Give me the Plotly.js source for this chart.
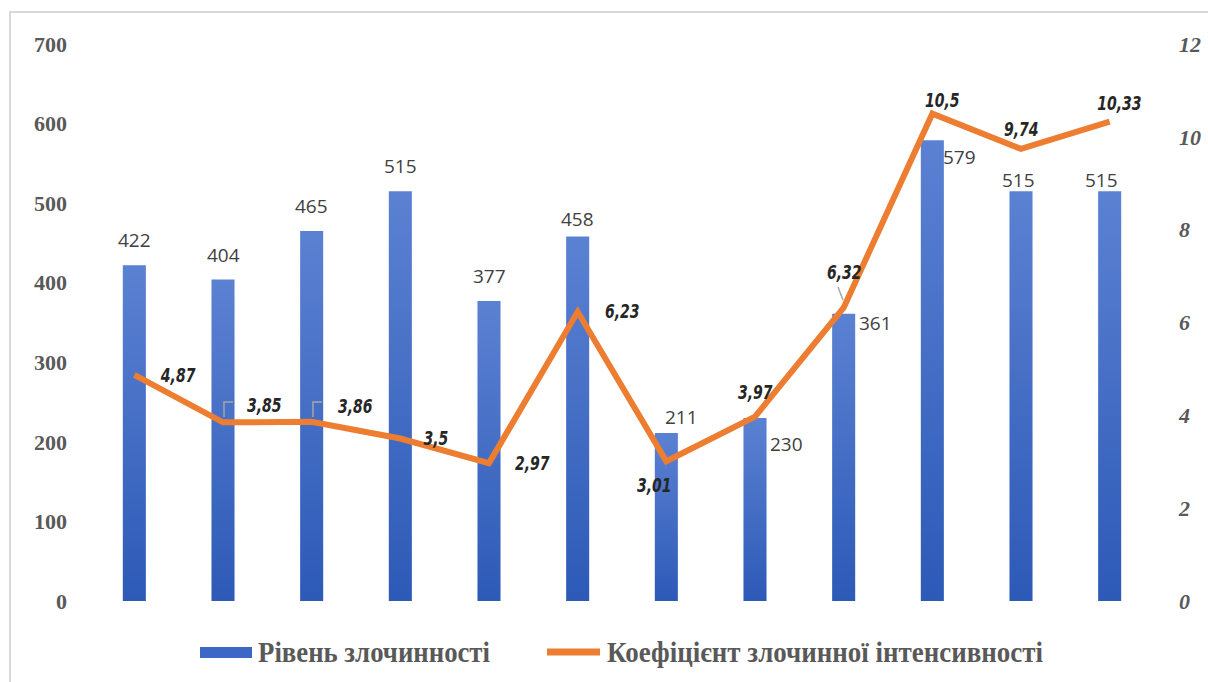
<!DOCTYPE html>
<html>
<head>
<meta charset="utf-8">
<script src="https://cdn.plot.ly/plotly-3.0.1.min.js"></script>
<style>
html,body{margin:0;padding:0;background:#fff;}
#chart{width:1208px;height:682px;}
</style>
</head>
<body>
<div id="chart"></div>
<script>
// ---- data ----
const categories = ['1','2','3','4','5','6','7','8','9','10','11','12'];
const crimeLevel = [422, 404, 465, 515, 377, 458, 211, 230, 361, 579, 515, 515];
const crimeIntensity = [4.87, 3.85, 3.86, 3.5, 2.97, 6.23, 3.01, 3.97, 6.32, 10.5, 9.74, 10.33];
const intensityLabels = ['4,87','3,85','3,86','3,5','2,97','6,23','3,01','3,97','6,32','10,5','9,74','10,33'];
const leftTicks = [0,100,200,300,400,500,600,700];
const rightTicks = [0,2,4,6,8,10,12];
const seriesNames = ['Рівень злочинності', 'Коефіцієнт злочинної інтенсивності'];

// ---- geometry / style ----
const M = {l:90, r:54, t:44, b:81};
const W = 1208, H = 682;
const pw = W - M.l - M.r, ph = H - M.t - M.b;
const px2x = px => (px - M.l) / pw;
const py2y = py => (H - M.b - py) / ph;

const barLabelShift = [[0,25],[0,25],[0,25],[0,25],[0,25],[0,18],[15,16],[31,-26],[32,-9],[27,-17],[-3,11],[-8,11]];
const lineLabelShift = [[44,0],[41,17],[43,16],[36,1],[43,0],[44,1],[-12,-24],[0,25],[0,36],[10,14],[0,20],[10,19]];

const annotations = [];
categories.forEach((c,i)=>{
  annotations.push({x:i, y:crimeLevel[i], xref:'x', yref:'y', text:String(crimeLevel[i]), showarrow:false,
    xshift:barLabelShift[i][0], yshift:barLabelShift[i][1],
    font:{family:'Open Sans, DejaVu Sans, sans-serif', size:19, color:'#404040'}});
});
categories.forEach((c,i)=>{
  annotations.push({x:i, y:crimeIntensity[i], xref:'x', yref:'y2', text:'<b><i>'+intensityLabels[i]+'</i></b>', showarrow:false,
    xshift:lineLabelShift[i][0], yshift:lineLabelShift[i][1],
    font:{family:'DejaVu Sans Condensed, DejaVu Sans, sans-serif', size:20, color:'#262626'}});
});
// custom legend texts
const legendFont = {family:'Liberation Serif', size:29, color:'#595959', weight:'bold'};
annotations.push({xref:'paper', yref:'paper', x:px2x(256), y:py2y(652), xanchor:'left', yanchor:'middle',
  text:'<b>'+seriesNames[0]+'</b>', showarrow:false, font:legendFont});
annotations.push({xref:'paper', yref:'paper', x:px2x(605), y:py2y(652), xanchor:'left', yanchor:'middle',
  text:'<b>'+seriesNames[1]+'</b>', showarrow:false, font:legendFont});

const leader = {color:'#a6a6a6', width:1.5};
const traces = [
  {type:'bar', name:seriesNames[0], x:categories, y:crimeLevel, width:0.26,
   marker:{color:'#3d67c6'}, hoverinfo:'skip'},
  {type:'scatter', mode:'lines', name:seriesNames[1], x:categories, y:crimeIntensity, yaxis:'y2',
   line:{color:'#ED7D31', width:6}, hoverinfo:'skip'}
];

const layout = {
  width:W, height:H,
  margin:M,
  paper_bgcolor:'#ffffff', plot_bgcolor:'#ffffff',
  showlegend:false,
  xaxis:{type:'category', showticklabels:false, showgrid:false, zeroline:false, showline:false, ticks:''},
  yaxis:{range:[0,700], tickvals:leftTicks, showgrid:false, zeroline:false, showline:false,
    tickfont:{family:'Liberation Serif, serif', size:22, color:'#595959', weight:'bold'}, ticklabelstandoff:22},
  yaxis2:{range:[0,12], tickvals:rightTicks, overlaying:'y', side:'right', showgrid:false, zeroline:false, showline:false,
    tickfont:{family:'Liberation Serif, serif', size:22, color:'#595959', weight:'bold', style:'italic'}, ticklabelstandoff:24},
  annotations:annotations,
  shapes:[
    {type:'rect', xref:'paper', yref:'paper', x0:px2x(10), x1:px2x(1260), y0:py2y(760), y1:py2y(12),
      line:{color:'#d9d9d9', width:2}, fillcolor:'rgba(0,0,0,0)', layer:'below'},
    // legend swatches
    {type:'rect', xref:'paper', yref:'paper', x0:px2x(200), x1:px2x(252), y0:py2y(658), y1:py2y(647),
      line:{width:0}, fillcolor:'#3d67c6', layer:'above'},
    {type:'line', xref:'paper', yref:'paper', x0:px2x(547), x1:px2x(600), y0:py2y(652), y1:py2y(652),
      line:{color:'#ED7D31', width:7}, layer:'above'},
    // label leader lines
    {type:'path', xref:'paper', yref:'paper', layer:'above', line:leader,
      path:`M ${px2x(233)} ${py2y(402)} L ${px2x(224)} ${py2y(402)} L ${px2x(224)} ${py2y(417)}`},
    {type:'path', xref:'paper', yref:'paper', layer:'above', line:leader,
      path:`M ${px2x(322)} ${py2y(402)} L ${px2x(313)} ${py2y(402)} L ${px2x(313)} ${py2y(417)}`},
    {type:'line', xref:'paper', yref:'paper', layer:'above', line:leader,
      x0:px2x(838), y0:py2y(287), x1:px2x(843), y1:py2y(300)}
  ]
};

Plotly.newPlot('chart', traces, layout, {staticPlot:true}).then(gd=>{
  const svg = gd.querySelector('svg.main-svg');
  const ns = 'http://www.w3.org/2000/svg';
  let defs = svg.querySelector('defs');
  if(!defs){defs = document.createElementNS(ns,'defs'); svg.insertBefore(defs, svg.firstChild);}
  const lg = document.createElementNS(ns,'linearGradient');
  lg.setAttribute('id','barGrad'); lg.setAttribute('x1','0'); lg.setAttribute('y1','0'); lg.setAttribute('x2','0'); lg.setAttribute('y2','1');
  [['0%','#5b81d2'],['100%','#2d5ab7']].forEach(([o,c])=>{const s=document.createElementNS(ns,'stop'); s.setAttribute('offset',o); s.setAttribute('stop-color',c); lg.appendChild(s);});
  defs.appendChild(lg);
  gd.querySelectorAll('.barlayer .point path').forEach(p=>{p.style.fill='url(#barGrad)';});

  const annTexts = gd.querySelectorAll('.annotation-text');
  const nCat = categories.length;
  annTexts.forEach((t,idx)=>{
    let sx = null;
    if(idx >= nCat && idx < 2*nCat) sx = 0.78;
    else if(idx === 2*nCat) sx = 232 / t.getBBox().width;
    else if(idx === 2*nCat+1) sx = 436 / t.getBBox().width;
    if(sx){
      const bb = t.getBBox();
      const ox = (idx >= 2*nCat) ? bb.x : bb.x + bb.width/2;
      const oy = bb.y + bb.height/2;
      t.setAttribute('transform', `translate(${ox} ${oy}) scale(${sx} 1) translate(${-ox} ${-oy})`);
    }
  });
});
</script>
</body>
</html>
